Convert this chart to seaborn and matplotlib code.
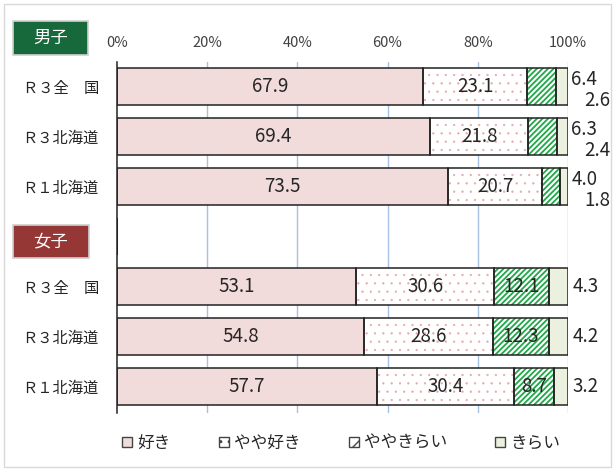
import numpy as np
import matplotlib
matplotlib.use("Agg")
import matplotlib.pyplot as plt
from matplotlib.patches import Patch, Rectangle
import seaborn as sns

# rows (blank row separates boys and girls)
rows = ["Ｒ３全\u3000国", "Ｒ３北海道", "Ｒ１北海道", "", "Ｒ３全\u3000国", "Ｒ３北海道", "Ｒ１北海道"]
categories = ["好き", "やや好き", "ややきらい", "きらい"]

suki = [67.9, 69.4, 73.5, np.nan, 53.1, 54.8, 57.7]
yaya_suki = [23.1, 21.8, 20.7, np.nan, 30.6, 28.6, 30.4]
yaya_kirai = [6.4, 6.3, 4.0, np.nan, 12.1, 12.3, 8.7]
kirai = [2.6, 2.4, 1.8, np.nan, 4.3, 4.2, 3.2]

ticks = [0, 20, 40, 60, 80, 100]
tick_labels = ["0%", "20%", "40%", "60%", "80%", "100%"]

sns.set_theme(style="white")
plt.rcParams["font.family"] = ["Noto Sans CJK JP", "DejaVu Sans"]
plt.rcParams["hatch.linewidth"] = 1.0

fig = plt.figure(figsize=(6.15, 4.71), dpi=100)
ax = fig.add_axes([0.190, 0.123, 0.7336, 0.745])

series = [suki, yaya_suki, yaya_kirai, kirai]
faces = ["#F2DCDB", "white", "white", "#EBF1DE"]
hatches = [None, "..", "//////", None]
hatch_cols = ["#F2DCDB", "#E8A8A8", "#1FA847", "#EBF1DE"]
hatch_lw = [1.0, 0.4, 1.3, 1.0]

y = np.arange(len(rows))
left = np.zeros(len(rows))
h = 0.75
for vals, fc, ht, hc, hl in zip(series, faces, hatches, hatch_cols, hatch_lw):
    v = np.nan_to_num(np.array(vals, dtype=float))
    with plt.rc_context({"hatch.linewidth": hl}):
        ax.barh(y, v, left=left, height=h, color=fc, hatch=ht, edgecolor=hc, linewidth=0, zorder=2)
    ax.barh(y, v, left=left, height=h, fill=False, edgecolor="#222222", linewidth=1.1, zorder=3)
    left += v

# value labels
fs = 13.5
tc = "#262626"
for i in range(len(rows)):
    if np.isnan(suki[i]):
        continue
    ax.text(suki[i] / 2, i, f"{suki[i]:.1f}", ha="center", va="center", fontsize=fs, color=tc, zorder=4)
    ax.text(suki[i] + yaya_suki[i] / 2, i, f"{yaya_suki[i]:.1f}", ha="center", va="center",
            fontsize=fs, color=tc, zorder=4)
    if i < 3:
        ax.annotate(f"{yaya_kirai[i]:.1f}", (100, i), xytext=(2.5, 5.4), textcoords="offset points",
                    ha="left", va="center", fontsize=fs, color=tc)
        ax.annotate(f"{kirai[i]:.1f}", (100, i), xytext=(12, -9.7), textcoords="offset points",
                    ha="left", va="center", fontsize=fs, color=tc)
    else:
        s = suki[i] + yaya_suki[i]
        ax.text(s + yaya_kirai[i] / 2, i, f"{yaya_kirai[i]:.1f}", ha="center", va="center",
                fontsize=fs, color=tc, zorder=4)
        ax.annotate(f"{kirai[i]:.1f}", (100, i), xytext=(3, 0), textcoords="offset points",
                    ha="left", va="center", fontsize=fs, color=tc)

ax.set_xlim(0, 100)
ax.set_ylim(6.53, -0.49)
ax.set_xticks(ticks)
ax.set_xticklabels(tick_labels, fontsize=10.5, color="#404040")
ax.xaxis.tick_top()
ax.tick_params(axis="x", length=0, pad=9)
ax.set_yticks(y)
ax.set_yticklabels(rows, fontsize=11, color="#262626")
ax.tick_params(axis="y", length=0, pad=13)
for t in ticks[1:]:
    ax.axvline(t, color="#A7C1E2", linewidth=1, zorder=1)
for s in ["top", "right", "bottom"]:
    ax.spines[s].set_visible(False)
ax.spines["left"].set_color("#222222")
ax.spines["left"].set_linewidth(1.1)
ax.grid(False)

# group labels
for (x0, y0, w, hh, col, txt) in [(13, 21, 75, 34, "#17683A", "男子"), (13, 225, 76, 33, "#953735", "女子")]:
    fig.patches.append(Rectangle((x0 / 615, 1 - (y0 + hh) / 471), w / 615, hh / 471, transform=fig.transFigure,
                                 facecolor=col, edgecolor="#D0D0D0", linewidth=1.2))
    fig.text((x0 + w / 2) / 615, 1 - (y0 + hh / 2) / 471, txt, ha="center", va="center",
             color="white", fontsize=12.5)

# outer frame
fig.patches.append(Rectangle((0.006, 0.008), 0.988, 0.984, transform=fig.transFigure,
                             fill=False, edgecolor="#D9D9D9", linewidth=1))

handles = [Patch(facecolor=fc, edgecolor="#444444", hatch=ht and ht[:2], label=c)
           for fc, ht, c in zip(faces, hatches, categories)]
fig.legend(handles=handles, loc="center", bbox_to_anchor=(0.555, 0.059), ncol=4, frameon=False,
           fontsize=12, handlelength=0.6, handleheight=0.6, handletextpad=0.3, columnspacing=2.9)

fig.savefig("out.png", dpi=100)
